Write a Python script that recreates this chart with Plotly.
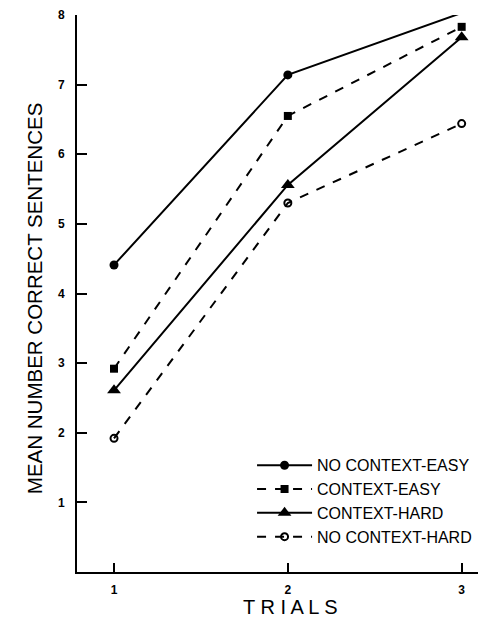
import plotly.graph_objects as go

trials = [1, 2, 3]
no_context_easy = [4.41, 7.14, 8.03]
context_easy = [2.92, 6.55, 7.83]
context_hard = [2.61, 5.56, 7.68]
no_context_hard = [1.92, 5.30, 6.44]

y_ticks = [1, 2, 3, 4, 5, 6, 7, 8]
x_ticks = [1, 2, 3]

series = [
    ("NO CONTEXT-EASY", no_context_easy, "solid", dict(symbol="circle", size=9, color="black")),
    ("CONTEXT-EASY", context_easy, "dash", dict(symbol="square", size=8, color="black")),
    ("CONTEXT-HARD", context_hard, "solid", dict(symbol="triangle-up", size=12, color="black")),
    ("NO CONTEXT-HARD", no_context_hard, "dash", dict(symbol="circle-open", size=7, color="black", line=dict(width=2, color="black"))),
]

fig = go.Figure()
for name, vals, dash, marker in series:
    fig.add_trace(go.Scatter(
        x=trials, y=vals, name=name, mode="lines+markers",
        line=dict(color="black", width=2, dash=dash),
        marker=marker, cliponaxis=False,
    ))

font_family = "Liberation Sans, Arial, sans-serif"

# page body has an 8px margin, so the figure is drawn 8px smaller and offset
fig.update_layout(
    width=478, height=613,
    margin=dict(l=69, r=0, t=7, b=49),
    paper_bgcolor="white", plot_bgcolor="white",
    font=dict(family=font_family, color="black"),
    showlegend=True,
    legend=dict(
        x=0.428, y=0.222, xanchor="left", yanchor="top",
        font=dict(size=16, family=font_family, color="black"),
        bgcolor="rgba(0,0,0,0)", tracegroupgap=0, itemwidth=55,
    ),
    xaxis=dict(
        range=[0.787, 3.14], tickvals=x_ticks, ticktext=[str(t) for t in x_ticks],
        showgrid=False, zeroline=False, showline=True, linecolor="black", linewidth=2,
        ticks="inside", ticklen=9, tickwidth=2, tickcolor="black",
        tickfont=dict(size=12, family=font_family, color="black", weight="bold"),
        ticklabelstandoff=6,
    ),
    yaxis=dict(
        range=[0, 8], tickvals=y_ticks, ticktext=[str(t) for t in y_ticks],
        showgrid=False, zeroline=False, showline=True, linecolor="black", linewidth=2,
        ticks="inside", ticklen=10, tickwidth=2, tickcolor="black",
        tickfont=dict(size=12, family=font_family, color="black", weight="bold"),
        ticklabelstandoff=8,
    ),
    annotations=[
        dict(text="MEAN NUMBER CORRECT SENTENCES", textangle=-90, xref="paper", yref="paper",
             x=-0.105, y=0.49, xanchor="center", yanchor="middle", showarrow=False,
             font=dict(size=20.5, family=font_family, color="black")),
        dict(text="T R I A L S", xref="paper", yref="paper",
             x=0.523, y=-0.063, xanchor="center", yanchor="middle", showarrow=False,
             font=dict(size=20, family=font_family, color="black")),
    ],
)

fig.write_html("out.html")
